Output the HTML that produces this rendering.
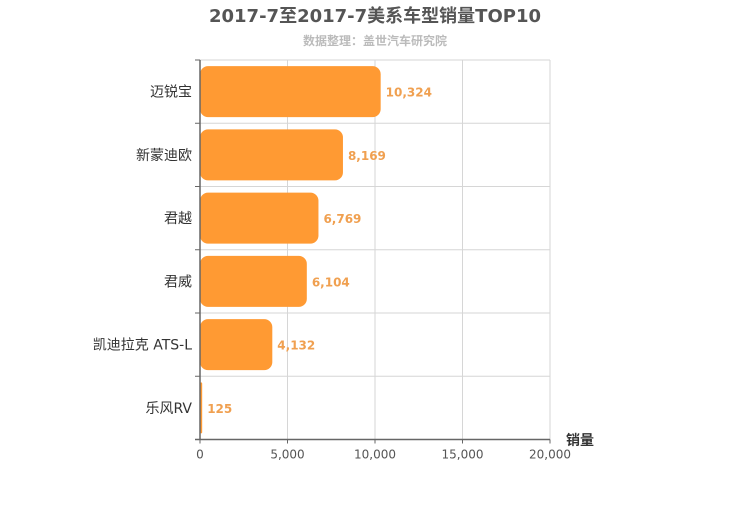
<!DOCTYPE html>
<html><head><meta charset="utf-8"><style>
body{margin:0;background:#fff;}
svg{font-family:"DejaVu Sans","Noto Sans CJK SC",sans-serif;}
</style></head><body>
<svg width="750" height="500">
<text x="375" y="22" text-anchor="middle" font-size="18" font-weight="bold" fill="#555">2017-7至2017-7美系车型销量TOP10</text>
<text x="375" y="45" text-anchor="middle" font-size="12" font-weight="bold" fill="#bbb">数据整理：盖世汽车研究院</text>
<g id="grid"></g><g id="bars"></g><g id="axes"></g>
<text x="580" y="445" text-anchor="middle" font-size="14" font-weight="bold" fill="#333">销量</text>
</svg>
<script>
const categories=["迈锐宝","新蒙迪欧","君越","君威","凯迪拉克 ATS-L","乐风RV"];
const values=[10324,8169,6769,6104,4132,125];
const ticks=[0,5000,10000,15000,20000];
const ns="http://www.w3.org/2000/svg";
const L=200,R=550,T=60,B=439.5,MAX=20000;
const x=v=>L+(R-L)*v/MAX;
const band=(B-T)/categories.length;
const y=i=>T+band*i;
function mk(tag,at,parent,txt){const e=document.createElementNS(ns,tag);for(const k in at)e.setAttribute(k,at[k]);if(txt!=null)e.textContent=txt;document.getElementById(parent).appendChild(e);return e;}
ticks.forEach(t=>{
 const g=mk('line',{x1:x(t),x2:x(t),y1:T,y2:B,stroke:'#d6d6d6','stroke-width':1},'grid');
 
 
 const tl=mk('line',{x1:x(t),x2:x(t),y1:B,y2:B+4,stroke:'#666'},'axes');
 
 
 const lb=mk('text',{x:x(t),y:B+19,'text-anchor':'middle','font-size':12,fill:'#555'},'axes',t.toLocaleString('en-US'));
 
 
});
for(let i=0;i<=categories.length;i++){
 const g=mk('line',{x1:L,x2:R,y1:y(i),y2:y(i),stroke:'#d6d6d6'},'grid');
 
 
 const tk=mk('line',{x1:L-5,x2:L,y1:y(i),y2:y(i),stroke:'#666'},'axes');
 
 
}
categories.forEach((c,i)=>{
 const h=51,by=y(i)+band/2-h/2,w=x(values[i])-L;
 const r=Math.min(8,w/2);
 const b=mk('rect',{x:L,y:by,width:w,height:h,rx:r,ry:r,fill:'#ff9a33'},'bars');
 
 
 const v=mk('text',{x:x(values[i])+5,y:y(i)+band/2+5,'font-size':12,'font-weight':'bold',fill:'#f0a050'},'bars',values[i].toLocaleString('en-US'));
 
 
 const l=mk('text',{x:L-8,y:y(i)+band/2+5,'text-anchor':'end','font-size':14,fill:'#333'},'axes',c);
 
 
});
const ax=mk('line',{x1:L,x2:L,y1:T,y2:B,stroke:'#666','stroke-width':1.5},'axes');


const bx=mk('line',{x1:L-5,x2:R,y1:B,y2:B,stroke:'#666','stroke-width':1.5},'axes');


</script>
</body></html>
